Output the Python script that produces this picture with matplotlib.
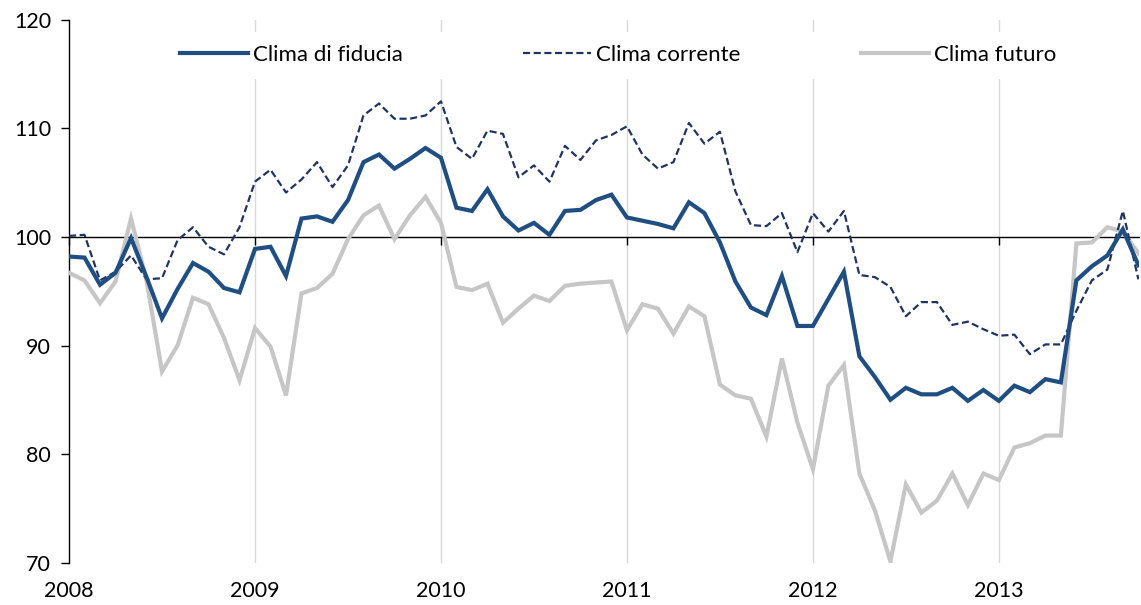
import matplotlib
matplotlib.use("Agg")
import matplotlib.pyplot as plt
import numpy as np

plt.rcParams['font.family'] = ['Lato', 'DejaVu Sans']

start_year = 2008
year_ticks = [2008, 2009, 2010, 2011, 2012, 2013]
y_ticks = [70, 80, 90, 100, 110, 120]

clima_fiducia = [
    98.2, 98.1, 95.6, 96.7, 99.9, 96.3, 92.5, 95.2, 97.6, 96.8, 95.3, 94.9,   # 2008
    98.9, 99.1, 96.4, 101.7, 101.9, 101.4, 103.4, 106.9, 107.6, 106.3, 107.2, 108.2,  # 2009
    107.3, 102.7, 102.4, 104.4, 101.9, 100.6, 101.3, 100.2, 102.4, 102.5, 103.4, 103.9,  # 2010
    101.8, 101.5, 101.2, 100.8, 103.2, 102.2, 99.5, 95.9, 93.5, 92.8, 96.4, 91.8,  # 2011
    91.8, 94.3, 96.8, 89.0, 87.1, 85.0, 86.1, 85.5, 85.5, 86.1, 84.9, 85.9,  # 2012
    84.9, 86.3, 85.7, 86.9, 86.6, 96.0, 97.3, 98.3, 100.7, 97.4,  # 2013
]

clima_corrente = [
    100.1, 100.2, 96.0, 96.8, 98.3, 96.1, 96.2, 99.7, 100.9, 99.1, 98.4, 100.9,
    105.1, 106.2, 104.1, 105.3, 106.9, 104.6, 106.6, 111.2, 112.3, 110.9, 110.9, 111.2,
    112.5, 108.3, 107.2, 109.8, 109.5, 105.5, 106.6, 105.1, 108.4, 107.1, 108.9, 109.4,
    110.2, 107.6, 106.3, 106.9, 110.5, 108.6, 109.7, 104.2, 101.1, 101.0, 102.2, 98.6,
    102.2, 100.5, 102.4, 96.5, 96.3, 95.4, 92.7, 94.0, 94.0, 91.9, 92.2, 91.5,
    90.9, 91.0, 89.2, 90.1, 90.1, 93.2, 96.0, 97.0, 102.4, 96.1,
]

clima_futuro = [
    96.7, 96.0, 93.9, 95.9, 101.7, 96.0, 87.6, 90.0, 94.4, 93.8, 90.7, 86.8,
    91.6, 89.9, 85.4, 94.8, 95.3, 96.6, 99.8, 102.0, 102.9, 99.8, 102.0, 103.7,
    101.3, 95.4, 95.1, 95.7, 92.1, 93.4, 94.6, 94.1, 95.5, 95.7, 95.8, 95.9,
    91.4, 93.8, 93.4, 91.1, 93.6, 92.7, 86.4, 85.4, 85.1, 81.6, 88.8, 82.9,
    78.6, 86.3, 88.2, 78.2, 74.8, 70.1, 77.2, 74.6, 75.7, 78.2, 75.3, 78.2,
    77.6, 80.6, 81.0, 81.7, 81.7, 99.4, 99.5, 100.9, 100.5, 98.5,
]

labels = ["Clima di fiducia", "Clima corrente", "Clima futuro"]

n = len(clima_fiducia)
x = start_year + np.arange(n) / 12.0

fig = plt.figure(figsize=(11.41, 6.05), dpi=100)
ax = fig.add_axes([0.0605, 0.0702, 0.938, 0.8968])

ax.plot(x, clima_futuro, color='#c6c6c6', lw=3.0, solid_joinstyle='miter', zorder=3, label=labels[2])
ax.plot(x, clima_corrente, color='#1f3463', lw=1.6, ls=(0, (3.2, 1.6)), zorder=4, label=labels[1])
ax.plot(x, clima_fiducia, color='#1f4e82', lw=3.0, solid_joinstyle='miter', zorder=5, label=labels[0])

ax.set_xlim(start_year, start_year + (n - 1) / 12.0 + 0.005)
ax.set_ylim(70, 120)

# vertical year gridlines
for yr in year_ticks[1:]:
    ax.axvline(yr, color='#d9d9d9', lw=1.0, zorder=1)

# x axis at 100
ax.spines['bottom'].set_position(('data', 100))
ax.spines['bottom'].set_color('black')
ax.spines['bottom'].set_linewidth(1.0)
ax.spines['bottom'].set_zorder(2)
ax.spines['top'].set_visible(False)
ax.spines['right'].set_visible(False)
ax.spines['left'].set_linewidth(1.0)
ax.set_xticks(year_ticks)
ax.tick_params(axis='x', direction='out', length=6, width=1.0, labelbottom=False)
ax.set_yticks(y_ticks)
ax.tick_params(axis='y', direction='out', length=6, width=1.0, labelsize=15.5, pad=7)

sec = ax.secondary_xaxis(0.0)
sec.set_xticks(year_ticks)
sec.set_xticklabels([str(y) for y in year_ticks])
sec.tick_params(axis='x', length=0, labelsize=15.5, pad=13)
sec.spines['bottom'].set_visible(False)

handles, labs = ax.get_legend_handles_labels()
order = [2, 1, 0]
leg = ax.legend([handles[i] for i in order], [labs[i] for i in order],
                loc='center', bbox_to_anchor=(0.513, 0.935), ncol=3,
                frameon=True, fontsize=16, handlelength=3.05, handletextpad=0.25,
                columnspacing=5.4, borderpad=0.6)
leg.get_frame().set_facecolor('white')
leg.get_frame().set_edgecolor('none')
leg.get_frame().set_alpha(1.0)
leg.set_zorder(6)

fig.savefig('out.png', dpi=100)
